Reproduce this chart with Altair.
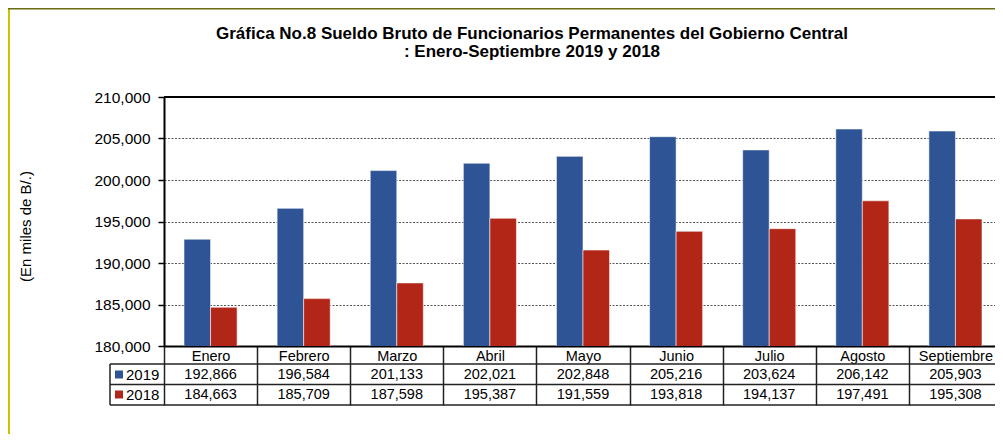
import altair as alt
import pandas as pd

# ---- data ----
months = ["Enero", "Febrero", "Marzo", "Abril", "Mayo", "Junio", "Julio", "Agosto", "Septiembre"]
series = ["2019", "2018"]
values_2019 = [192866, 196584, 201133, 202021, 202848, 205216, 203624, 206142, 205903]
values_2018 = [184663, 185709, 187598, 195387, 191559, 193818, 194137, 197491, 195308]
y_ticks = [180000, 185000, 190000, 195000, 200000, 205000, 210000]

title_lines = [
    "Gráfica No.8 Sueldo Bruto de Funcionarios Permanentes del Gobierno Central",
    ": Enero-Septiembre 2019 y 2018",
]
y_title = "(En miles de B/.)"

BLUE = "#2E5496"
RED = "#B22618"
FONT = "Liberation Sans"

rows = []
for m, a, b in zip(months, values_2019, values_2018):
    rows.append({"mes": m, "serie": series[0], "valor": a})
    rows.append({"mes": m, "serie": series[1], "valor": b})
df = pd.DataFrame(rows)
one = pd.DataFrame({"k": [0]})

W, H = 831, 249
XR = 838  # full table width (cropped at the right like the reference)
ROW1_Y, ROW2_Y = 277.5, 297.5

x_enc = alt.X("mes:N", sort=months, title=None,
              scale=alt.Scale(range=[0, XR], paddingInner=0, paddingOuter=0))

bars = alt.Chart(df).mark_bar(clip=True, stroke="#ffffff", strokeOpacity=0.55, strokeWidth=1).encode(
    x=x_enc,
    xOffset=alt.XOffset("serie:N", sort=series,
                        scale=alt.Scale(paddingInner=0, paddingOuter=0.754)),
    y=alt.Y("valor:Q", title=y_title,
            scale=alt.Scale(domain=[180000, 210000], zero=False, nice=False),
            axis=alt.Axis(values=y_ticks, labelExpr="format(datum.value, ',')")),
    color=alt.Color("serie:N", scale=alt.Scale(domain=series, range=[BLUE, RED]), legend=None),
)

def rule(x, x2, y, y2, color="#222222", w=1.5):
    return alt.Chart(one).mark_rule(color=color, strokeWidth=w).encode(
        x=alt.value(x), x2=alt.value(x2), y=alt.value(y), y2=alt.value(y2))

top_border = rule(0, XR, 0, 0, color="#000000", w=2)
table_h1 = rule(-54, XR, 267, 267)
table_h2 = rule(-54, XR, 287.5, 287.5)
table_h3 = rule(-54, XR, 308, 308)
table_v0 = rule(-54, -54, 267, 308)
frame_left = rule(-155, -155, -88, 340, color="#C8C400", w=2)
frame_top = rule(-156, XR, -88.25, -88.25, color="#6B6B10", w=1.5)

def value_row(s, ypos):
    return alt.Chart(df[df["serie"] == s]).mark_text(
        font=FONT, fontSize=14.5, color="#000000", align="center", baseline="middle"
    ).encode(x=x_enc, y=alt.value(ypos), text=alt.Text("valor:Q", format=","))

def legend_cell(s, color, ypos):
    sq = alt.Chart(one).mark_square(size=64, color=color, opacity=1).encode(
        x=alt.value(-45), y=alt.value(ypos))
    tx = alt.Chart(one).mark_text(font=FONT, fontSize=15, color="#000000",
                                  align="left", baseline="middle").encode(
        x=alt.value(-38), y=alt.value(ypos), text=alt.value(s))
    return sq + tx

chart = alt.layer(
    frame_left, frame_top,
    bars, top_border,
    table_h1, table_h2, table_h3, table_v0,
    value_row(series[0], ROW1_Y), value_row(series[1], ROW2_Y),
    legend_cell(series[0], BLUE, ROW1_Y), legend_cell(series[1], RED, ROW2_Y),
).properties(
    width=W, height=H,
    autosize=alt.AutoSizeParams(type="none"),
    padding={"left": 156, "top": 89, "right": 0, "bottom": 88},
    background="#ffffff",
    title=alt.TitleParams(text=title_lines, font=FONT, fontSize=17, fontWeight="bold",
                          color="#000000", anchor="middle", frame="group",
                          dx=-47.5, offset=-53, lineHeight=18),
).configure_view(stroke=None).configure_axisX(
    labelAngle=0, labelFont=FONT, labelFontSize=14.5, labelColor="#000000",
    labelBaseline="middle", labelPadding=-49, labelLimit=200,
    tickBand="extent", tickSize=59, tickColor="#222222", tickWidth=1.5,
    domainColor="#000000", domainWidth=2, grid=False, zindex=1,
).configure_axisY(
    labelFont=FONT, labelFontSize=15.5, labelColor="#000000", labelPadding=8,
    tickColor="#000000", tickSize=6, tickWidth=1.5,
    domainColor="#000000", domainWidth=2,
    grid=True, gridColor="#555555", gridDash=[2, 1.5], gridWidth=1,
    titleFont=FONT, titleFontSize=15, titleFontWeight="normal", titleColor="#000000",
    titleX=-139, titleY=129, titleAngle=270, titleAlign="center", titleBaseline="middle",
    zindex=0,
)

chart.save("out.html", embed_options={"renderer": "svg", "actions": False})
